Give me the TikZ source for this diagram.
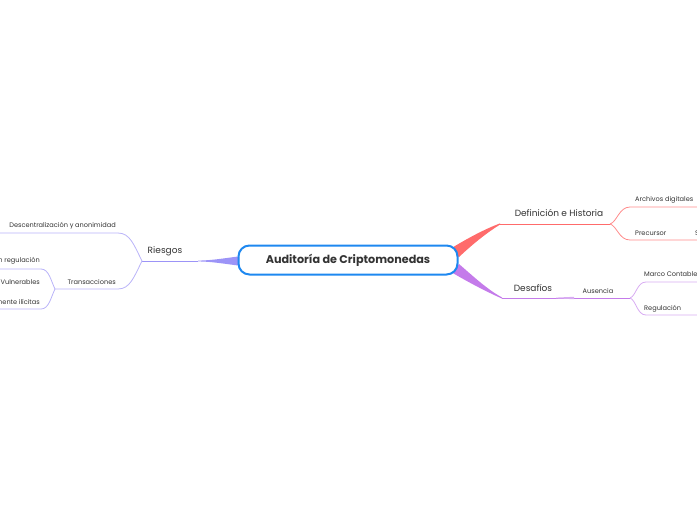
\documentclass[tikz,border=0pt]{standalone}
\usepackage{fontspec}
\setmainfont{Poppins}
\definecolor{cblue}{HTML}{1E88F0}
\definecolor{redbr}{HTML}{FF6B6B}
\definecolor{redl}{HTML}{FF8A8A}
\definecolor{purpbr}{HTML}{C47BEA}
\definecolor{purpl}{HTML}{D8ACF2}
\definecolor{riesgo}{HTML}{9C94F7}
\definecolor{riesgol}{HTML}{B9B3F8}
\definecolor{txt}{HTML}{333333}
\tikzset{
  lbl/.style={font=\fontsize{6.6}{8}\selectfont, text=txt, inner sep=0pt},
  mainlbl/.style={font=\fontsize{9}{11}\selectfont, text=txt, inner sep=0pt},
  rootbox/.style={draw=cblue, line width=2pt, rounded corners=11pt, fill=white,
    minimum width=219pt, minimum height=29pt, text=txt,
    font=\bfseries\fontsize{11.2}{13}\selectfont},
  br/.style={line width=0.8pt}
}
\begin{document}
\begin{tikzpicture}[x=1pt,y=-1pt]
\useasboundingbox (0,0) rectangle (697,520);
% ---- branches (behind root) ----
% Riesgos
\coordinate (rgfork) at (142,261);
\coordinate (rgtap) at (198,261);
\fill[riesgo] (242,256) .. controls (222,258.5) and (212,260.4) .. (198,260.6) -- (198,261.4) .. controls (212,261.6) and (222,263.5) .. (242,266) -- cycle;
\draw[riesgo, br] (rgtap) -- (rgfork);
% Definicion
\coordinate (dfstart) at (500,224);
\coordinate (dffork) at (610,224);
\fill[redbr] (450,249) -- (459,257) .. controls (475,242) and (488,232) .. (500,224.6) -- (500,223.4) .. controls (485,229) and (468,238) .. cycle;
\draw[redbr, br] (dfstart) -- (dffork);
% Desafios
\coordinate (dsstart) at (502,298);
\coordinate (ausfork) at (630,298);
\fill[purpbr] (459,264) -- (451,272) .. controls (468,282) and (485,291) .. (502,298.6) -- (502,297.4) .. controls (488,290) and (474,277) .. cycle;
\draw[purpbr, br] (dsstart) -- (ausfork);
\fill[purpl] (556,297.6) -- (574,296.8) -- (574,299.2) -- (556,298.4) -- cycle;

% ---- root ----
\node[rootbox] (root) at (348,260) {Auditoría de Criptomonedas};

% ---- main labels ----
\node[mainlbl] (riesgos) at (165,251) {Riesgos};
\node[mainlbl] (definicion) at (559,213) {Definición e Historia};
\node[mainlbl] (desafios) at (533,288) {Desafíos};

% ---- Riesgos children ----
\coordinate (desc) at (0,233);
\coordinate (transend) at (55,289);
\draw[riesgol, br] (rgfork) .. controls (134,245) and (130,233) .. (118,233) -- (desc);
\draw[riesgol, br] (rgfork) .. controls (134,277) and (130,289) .. (118,289) -- (transend);
\node[lbl, anchor=east] (descl) at (116,225.5) {Descentralización y anonimidad};
\node[lbl, anchor=east] (transl) at (116,282) {Transacciones};
% Transacciones children
\coordinate (t1) at (0,269);
\coordinate (t3) at (0,309);
\draw[riesgol, br] (transend) .. controls (51,281) and (49,269) .. (41,269) -- (t1);
\draw[riesgol, br] (transend) .. controls (51,297) and (49,309) .. (41,309) -- (t3);
\node[lbl, anchor=east] (t1l) at (40,261) {Sin regulación};
\node[lbl, anchor=east] (t2l) at (40,282) {Vulnerables};
\node[lbl, anchor=east] (t3l) at (40,301.5) {Potencialmente ilícitas};

% ---- Definicion children ----
\coordinate (arch) at (700,207);
\coordinate (prec) at (700,240);
\draw[redl, br] (dffork) .. controls (617,222) and (619,207) .. (630,207) -- (arch);
\draw[redl, br] (dffork) .. controls (617,226) and (619,240) .. (630,240) -- (prec);
\node[lbl, anchor=west] (archl) at (635,199.5) {Archivos digitales};
\node[lbl, anchor=west] (precl) at (635,233) {Precursor};
\node[lbl, anchor=west] (precs) at (695,233) {S};

% ---- Desafios children ----
\node[lbl] (ausl) at (598,291.5) {Ausencia};
\coordinate (marco) at (700,282);
\coordinate (regu) at (700,315);
\draw[purpl, br] (ausfork) .. controls (636,296) and (637,282) .. (646,282) -- (marco);
\draw[purpl, br] (ausfork) .. controls (636,300) and (637,315) .. (646,315) -- (regu);
\node[lbl, anchor=west] (marcol) at (644,274) {Marco Contable};
\node[lbl, anchor=west] (regul) at (644,308.5) {Regulación};
\end{tikzpicture}
\end{document}
